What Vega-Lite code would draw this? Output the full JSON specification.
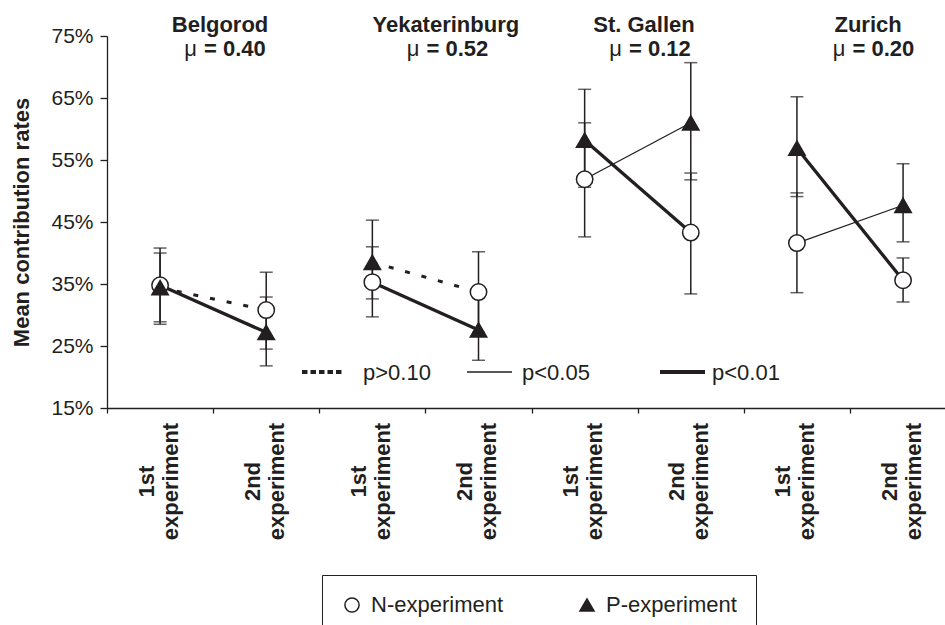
{
  "$schema": "https://vega.github.io/schema/vega-lite/v6.json",
  "width": 838,
  "height": 372,
  "autosize": {"type": "none"},
  "padding": {"left": 107, "top": 36, "right": 0, "bottom": 217},
  "config": {
    "font": "Liberation Sans",
    "view": {"stroke": null},
    "axis": {"domainColor": "#231f20", "tickColor": "#231f20", "labelColor": "#231f20", "titleColor": "#231f20", "grid": false, "domainWidth": 1.3, "tickWidth": 1.3},
    "text": {"color": "#231f20"}
  },
  "datasets": {
    "points": [
      {"city": "Belgorod", "pos": 1, "type": "N-experiment", "v": 0.348, "lo": 0.289, "hi": 0.408, "seg": "B-NP", "sig": "p<0.01"},
      {"city": "Belgorod", "pos": 1, "type": "P-experiment", "v": 0.344, "lo": 0.285, "hi": 0.400, "seg": "B-PN", "sig": "p>0.10"},
      {"city": "Belgorod", "pos": 2, "type": "N-experiment", "v": 0.308, "lo": 0.245, "hi": 0.369, "seg": "B-PN", "sig": "p>0.10"},
      {"city": "Belgorod", "pos": 2, "type": "P-experiment", "v": 0.272, "lo": 0.218, "hi": 0.329, "seg": "B-NP", "sig": "p<0.01"},
      {"city": "Yekaterinburg", "pos": 3, "type": "N-experiment", "v": 0.353, "lo": 0.297, "hi": 0.410, "seg": "Y-NP", "sig": "p<0.01"},
      {"city": "Yekaterinburg", "pos": 3, "type": "P-experiment", "v": 0.385, "lo": 0.326, "hi": 0.453, "seg": "Y-PN", "sig": "p>0.10"},
      {"city": "Yekaterinburg", "pos": 4, "type": "N-experiment", "v": 0.337, "lo": 0.272, "hi": 0.402, "seg": "Y-PN", "sig": "p>0.10"},
      {"city": "Yekaterinburg", "pos": 4, "type": "P-experiment", "v": 0.276, "lo": 0.227, "hi": 0.330, "seg": "Y-NP", "sig": "p<0.01"},
      {"city": "St. Gallen", "pos": 5, "type": "N-experiment", "v": 0.519, "lo": 0.426, "hi": 0.610, "seg": "S-NP", "sig": "p<0.05"},
      {"city": "St. Gallen", "pos": 5, "type": "P-experiment", "v": 0.582, "lo": 0.506, "hi": 0.664, "seg": "S-PN", "sig": "p<0.01"},
      {"city": "St. Gallen", "pos": 6, "type": "N-experiment", "v": 0.433, "lo": 0.334, "hi": 0.529, "seg": "S-PN", "sig": "p<0.01"},
      {"city": "St. Gallen", "pos": 6, "type": "P-experiment", "v": 0.610, "lo": 0.518, "hi": 0.707, "seg": "S-NP", "sig": "p<0.05"},
      {"city": "Zurich", "pos": 7, "type": "N-experiment", "v": 0.416, "lo": 0.336, "hi": 0.497, "seg": "Z-NP", "sig": "p<0.05"},
      {"city": "Zurich", "pos": 7, "type": "P-experiment", "v": 0.569, "lo": 0.491, "hi": 0.652, "seg": "Z-PN", "sig": "p<0.01"},
      {"city": "Zurich", "pos": 8, "type": "N-experiment", "v": 0.356, "lo": 0.321, "hi": 0.392, "seg": "Z-PN", "sig": "p<0.01"},
      {"city": "Zurich", "pos": 8, "type": "P-experiment", "v": 0.477, "lo": 0.418, "hi": 0.544, "seg": "Z-NP", "sig": "p<0.05"}
    ],
    "keys": [
      {"sig": "p>0.10", "x1": 2.337, "x2": 2.723, "y": 0.2081, "tx": 2.912},
      {"sig": "p<0.05", "x1": 3.892, "x2": 4.316, "y": 0.2081, "tx": 4.41},
      {"sig": "p<0.01", "x1": 5.71, "x2": 6.134, "y": 0.2081, "tx": 6.2}
    ],
    "cities": [
      {"name": "Belgorod", "mu": "= 0.40", "tx": 1.565, "mx": 1.381},
      {"name": "Yekaterinburg", "mu": "= 0.52", "tx": 3.692, "mx": 3.477},
      {"name": "St. Gallen", "mu": "= 0.12", "tx": 5.559, "mx": 5.385},
      {"name": "Zurich", "mu": "= 0.20", "tx": 7.67, "mx": 7.491}
    ]
  },
  "layer": [
    {
      "data": {"name": "points"},
      "transform": [{"filter": "datum.sig == 'p>0.10'"}],
      "mark": {"type": "line", "strokeWidth": 3, "strokeDash": [5, 12], "color": "#231f20"},
      "encoding": {
        "x": {"field": "pos", "type": "quantitative", "scale": {"domain": [0.5, 8.395], "nice": false, "zero": false}, "title": null},
        "y": {"field": "v", "type": "quantitative", "scale": {"domain": [0.15, 0.75], "nice": false, "zero": false}, "title": "Mean contribution rates"},
        "detail": {"field": "seg"}
      }
    },
    {
      "data": {"name": "points"},
      "transform": [{"filter": "datum.sig == 'p<0.05'"}],
      "mark": {"type": "line", "strokeWidth": 1.3, "color": "#231f20"},
      "encoding": {
        "x": {"field": "pos", "type": "quantitative", "scale": {"domain": [0.5, 8.395], "nice": false, "zero": false}, "title": null},
        "y": {"field": "v", "type": "quantitative", "scale": {"domain": [0.15, 0.75], "nice": false, "zero": false}, "title": "Mean contribution rates"},
        "detail": {"field": "seg"}
      }
    },
    {
      "data": {"name": "points"},
      "transform": [{"filter": "datum.sig == 'p<0.01'"}],
      "mark": {"type": "line", "strokeWidth": 3.3, "color": "#231f20"},
      "encoding": {
        "x": {"field": "pos", "type": "quantitative", "scale": {"domain": [0.5, 8.395], "nice": false, "zero": false}, "title": null},
        "y": {"field": "v", "type": "quantitative", "scale": {"domain": [0.15, 0.75], "nice": false, "zero": false}, "title": "Mean contribution rates"},
        "detail": {"field": "seg"}
      }
    },
    {
      "data": {"name": "points"},
      "mark": {"type": "errorbar", "color": "#231f20", "ticks": {"size": 13, "thickness": 1.5}, "rule": {"strokeWidth": 1.5}},
      "encoding": {
        "x": {"field": "pos", "type": "quantitative", "scale": {"domain": [0.5, 8.395], "nice": false, "zero": false}, "title": null},
        "y": {"field": "lo", "type": "quantitative", "scale": {"domain": [0.15, 0.75], "nice": false, "zero": false}, "title": "Mean contribution rates"},
        "y2": {"field": "hi"}
      }
    },
    {
      "data": {"name": "points"},
      "mark": {"type": "point", "filled": true, "size": 270, "strokeWidth": 1.5, "opacity": 1},
      "encoding": {
        "x": {
          "field": "pos", "type": "quantitative", "scale": {"domain": [0.5, 8.395], "nice": false, "zero": false}, "title": null,
          "axis": {
            "values": [0.5, 1.5, 2.5, 3.5, 4.5, 5.5, 6.5, 7.5],
            "labelExpr": "floor(datum.value) % 2 == 0 ? ['1st', 'experiment'] : ['2nd', 'experiment']",
            "labelAngle": 270, "labelAlign": "center", "labelBaseline": "middle", "labelLineHeight": 24,
            "labelFontSize": 22, "labelFontWeight": "bold", "labelPadding": 68, "labelOffset": 39,
            "tickSize": 5, "labelOverlap": false, "labelFlush": false, "labelBound": false, "labelLimit": 300
          }
        },
        "y": {
          "field": "v", "type": "quantitative", "scale": {"domain": [0.15, 0.75], "nice": false, "zero": false}, "title": "Mean contribution rates",
          "axis": {
            "values": [0.15, 0.25, 0.35, 0.45, 0.55, 0.65, 0.75], "format": ".0%",
            "labelFontSize": 21, "tickSize": 7, "labelPadding": 7,
            "titleFontSize": 22, "titleFontWeight": "bold", "titlePadding": 17
          }
        },
        "shape": {
          "field": "type", "type": "nominal",
          "scale": {"domain": ["N-experiment", "P-experiment"], "range": ["circle", "triangle-up"]},
          "legend": {"orient": "none", "legendX": 215, "legendY": 539, "direction": "horizontal", "title": null, "strokeColor": "#231f20", "padding": 19, "labelFontSize": 22, "labelColor": "#231f20", "labelOffset": 8, "columnPadding": 72, "symbolSize": 200, "symbolStrokeWidth": 1.5}
        },
        "fill": {
          "field": "type", "type": "nominal",
          "scale": {"domain": ["N-experiment", "P-experiment"], "range": ["white", "#231f20"]},
          "legend": {"orient": "none", "legendX": 215, "legendY": 539, "direction": "horizontal", "title": null, "strokeColor": "#231f20", "padding": 19, "labelFontSize": 22, "labelColor": "#231f20", "labelOffset": 8, "columnPadding": 72, "symbolSize": 200, "symbolStrokeWidth": 1.5}
        },
        "stroke": {
          "field": "type", "type": "nominal",
          "scale": {"domain": ["N-experiment", "P-experiment"], "range": ["#231f20", "#231f20"]},
          "legend": {"orient": "none", "legendX": 215, "legendY": 539, "direction": "horizontal", "title": null, "strokeColor": "#231f20", "padding": 19, "labelFontSize": 22, "labelColor": "#231f20", "labelOffset": 8, "columnPadding": 72, "symbolSize": 200, "symbolStrokeWidth": 1.5}
        }
      }
    },
    {
      "data": {"name": "keys"},
      "transform": [{"filter": "datum.sig == 'p>0.10'"}],
      "mark": {"type": "rule", "strokeWidth": 4, "strokeDash": [5.5, 3], "color": "#231f20"},
      "encoding": {
        "x": {"field": "x1", "type": "quantitative", "scale": {"domain": [0.5, 8.395], "nice": false, "zero": false}, "title": null},
        "x2": {"field": "x2"},
        "y": {"field": "y", "type": "quantitative", "scale": {"domain": [0.15, 0.75], "nice": false, "zero": false}, "title": "Mean contribution rates"}
      }
    },
    {
      "data": {"name": "keys"},
      "transform": [{"filter": "datum.sig == 'p<0.05'"}],
      "mark": {"type": "rule", "strokeWidth": 1.3, "color": "#231f20"},
      "encoding": {
        "x": {"field": "x1", "type": "quantitative", "scale": {"domain": [0.5, 8.395], "nice": false, "zero": false}, "title": null},
        "x2": {"field": "x2"},
        "y": {"field": "y", "type": "quantitative", "scale": {"domain": [0.15, 0.75], "nice": false, "zero": false}, "title": "Mean contribution rates"}
      }
    },
    {
      "data": {"name": "keys"},
      "transform": [{"filter": "datum.sig == 'p<0.01'"}],
      "mark": {"type": "rule", "strokeWidth": 4, "color": "#231f20"},
      "encoding": {
        "x": {"field": "x1", "type": "quantitative", "scale": {"domain": [0.5, 8.395], "nice": false, "zero": false}, "title": null},
        "x2": {"field": "x2"},
        "y": {"field": "y", "type": "quantitative", "scale": {"domain": [0.15, 0.75], "nice": false, "zero": false}, "title": "Mean contribution rates"}
      }
    },
    {
      "data": {"name": "keys"},
      "mark": {"type": "text", "align": "left", "baseline": "alphabetic", "dy": 8, "fontSize": 22, "color": "#231f20"},
      "encoding": {
        "x": {"field": "tx", "type": "quantitative", "scale": {"domain": [0.5, 8.395], "nice": false, "zero": false}, "title": null},
        "y": {"field": "y", "type": "quantitative", "scale": {"domain": [0.15, 0.75], "nice": false, "zero": false}, "title": "Mean contribution rates"},
        "text": {"field": "sig"}
      }
    },
    {
      "data": {"name": "cities"},
      "mark": {"type": "text", "align": "center", "baseline": "alphabetic", "fontSize": 22, "fontWeight": "bold", "color": "#231f20"},
      "encoding": {
        "x": {"field": "tx", "type": "quantitative", "scale": {"domain": [0.5, 8.395], "nice": false, "zero": false}, "title": null},
        "y": {"datum": 0.7565, "type": "quantitative", "scale": {"domain": [0.15, 0.75], "nice": false, "zero": false}, "title": "Mean contribution rates"},
        "text": {"field": "name"}
      }
    },
    {
      "data": {"name": "cities"},
      "mark": {"type": "text", "align": "right", "baseline": "alphabetic", "dx": -3.5, "fontSize": 22, "color": "#231f20"},
      "encoding": {
        "x": {"field": "mx", "type": "quantitative", "scale": {"domain": [0.5, 8.395], "nice": false, "zero": false}, "title": null},
        "y": {"datum": 0.7185, "type": "quantitative", "scale": {"domain": [0.15, 0.75], "nice": false, "zero": false}, "title": "Mean contribution rates"},
        "text": {"value": "μ"}
      }
    },
    {
      "data": {"name": "cities"},
      "mark": {"type": "text", "align": "left", "baseline": "alphabetic", "dx": 3.5, "fontSize": 22, "fontWeight": "bold", "color": "#231f20"},
      "encoding": {
        "x": {"field": "mx", "type": "quantitative", "scale": {"domain": [0.5, 8.395], "nice": false, "zero": false}, "title": null},
        "y": {"datum": 0.7185, "type": "quantitative", "scale": {"domain": [0.15, 0.75], "nice": false, "zero": false}, "title": "Mean contribution rates"},
        "text": {"field": "mu"}
      }
    }
  ]
}
